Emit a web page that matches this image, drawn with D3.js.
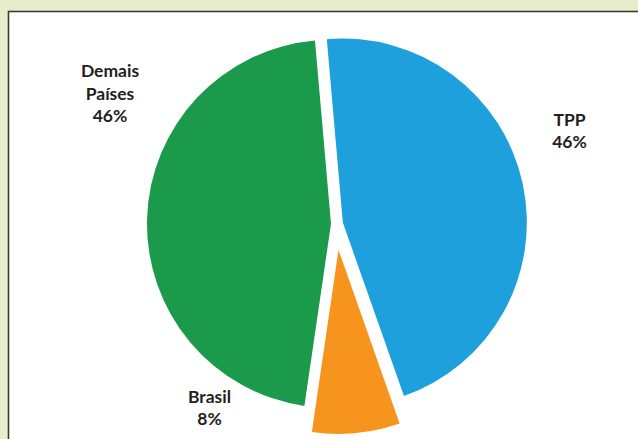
<!DOCTYPE html>
<html>
<head>
<meta charset="utf-8">
<script src="https://cdn.jsdelivr.net/npm/d3@7/dist/d3.min.js"></script>
<style>
  html, body { margin: 0; padding: 0; background: #e8ecca; }
  svg { display: block; }
</style>
</head>
<body>
<svg id="chart" width="638" height="439"></svg>
<script>
// Data (shares; labels as printed)
const categories = ["TPP", "Brasil", "Demais Países"];
const shares = [46.0, 7.7, 46.3];
const labelLines = [["TPP", "46%"], ["Brasil", "8%"], ["Demais", "Países", "46%"]];
const colors = ["#1ea0dc", "#f7941e", "#1a9a4a"];

const svg = d3.select("#chart");
const W = 638, H = 439;

// panel
svg.append("rect").attr("x", 0).attr("y", 0).attr("width", W).attr("height", H).attr("fill", "#e8ecca");
svg.append("rect")
  .attr("x", 8.5).attr("y", 11.5).attr("width", 700).attr("height", 500)
  .attr("fill", "#ffffff").attr("stroke", "#3c3c3c").attr("stroke-width", 1.6);

const cx = 336, cy = 224, R = 184;
const explode = [7, 26, 5];
const start = -5.0 * Math.PI / 180;

const pie = d3.pie().sort(null).value(d => d)
  .startAngle(start)
  .endAngle(2 * Math.PI + start);
const arcs = pie(shares);
const arc = d3.arc().innerRadius(0).outerRadius(R);

const g = svg.append("g").attr("transform", `translate(${cx},${cy})`);
g.selectAll("path").data(arcs).join("path")
  .attr("d", arc)
  .attr("fill", (d, i) => colors[i])
  .attr("transform", (d, i) => {
    const a = (d.startAngle + d.endAngle) / 2;
    return `translate(${Math.sin(a) * explode[i]},${-Math.cos(a) * explode[i]})`;
  });

// labels
const labelPos = [[569.5, 126], [209.5, 402.5], [110, 77]];
const lineH = [21.5, 22.5, 22.5];
labelLines.forEach((lines, i) => {
  const t = svg.append("text")
    .attr("text-anchor", "middle")
    .attr("font-family", "Lato, 'Open Sans', sans-serif")
    .attr("font-weight", "bold")
    .attr("font-size", 17.5)
    .attr("fill", "#231f20");
  lines.forEach((s, j) => {
    t.append("tspan").attr("x", labelPos[i][0]).attr("y", labelPos[i][1] + j * lineH[i]).text(s);
  });
});
</script>
</body>
</html>
